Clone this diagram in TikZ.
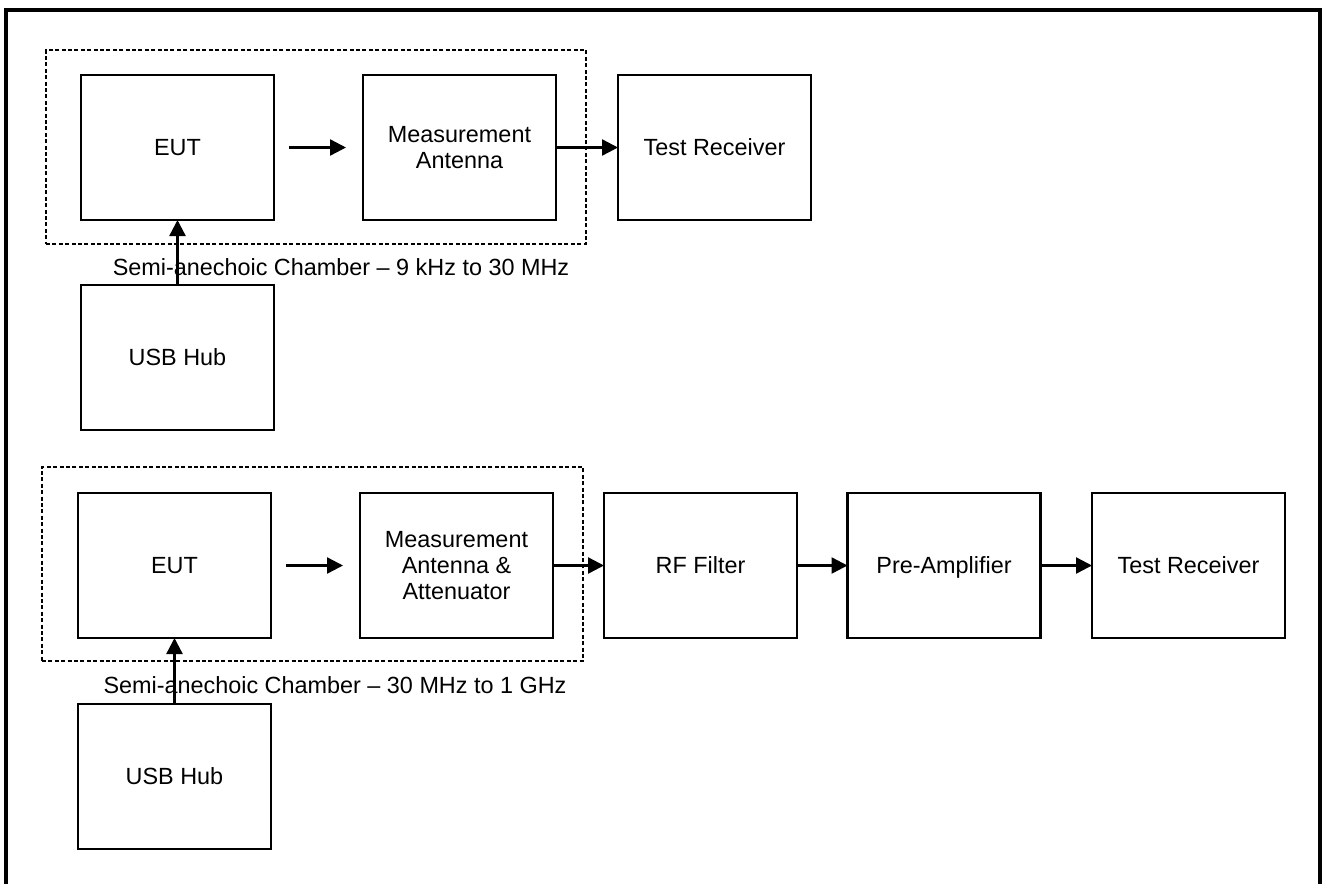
\documentclass[tikz,border=0pt]{standalone}
\usepackage{fontspec}
\setmainfont{Liberation Sans}
\usetikzlibrary{arrows.meta}
\begin{document}
\begin{tikzpicture}[x=0.5pt,y=-0.5pt,
  every node/.style={font=\fontsize{11.7}{13.2}\selectfont, text=black},
  blk/.style={draw, line width=1.2pt, minimum width=96.5pt, minimum height=72.5pt, inner sep=0pt, outer sep=0pt, align=center},
  one/.style={blk, text height=8.4pt, text depth=0pt},
  chamber/.style={draw, line width=1pt, dash pattern=on 2pt off 1.2pt, inner sep=0pt, outer sep=0pt},
  arr/.style={line width=1.2pt, -{Triangle[length=8pt,width=8pt]}},
  lbl/.style={inner sep=0pt}]
\useasboundingbox (0,0) rectangle (1322,884);
\draw[line width=2pt] (6,884) -- (6,10) -- (1320,10) -- (1320,884);
% top section
\node[chamber, minimum width=270pt, minimum height=97pt] (ch1) at (316,147) {};
\node[one] (eut1) at (177.5,147.5) {EUT};
\node[blk] (ma1) at (459.5,147.5) {Measurement\\Antenna};
\node[one] (tr1) at (714.5,147.5) {Test Receiver};
\node[one] (usb1) at (177.5,357.5) {USB Hub};
\node[lbl] (l1) at (341,267) {Semi-anechoic Chamber -- 9 kHz to 30 MHz};
\draw[arr, shorten <=7.5pt, shorten >=8.5pt] (eut1.east) -- (ma1.west);
\draw[arr] (ma1.east) -- (tr1.west);
\draw[arr] (usb1.north) -- (eut1.south);
% bottom section
\node[chamber, minimum width=270.5pt, minimum height=97pt] (ch2) at (312.5,564) {};
\node[one] (eut2) at (174.5,565.5) {EUT};
\node[blk] (ma2) at (456.5,565.5) {Measurement\\Antenna \&\\Attenuator};
\node[one] (rf2) at (700.5,565.5) {RF Filter};
\node[one] (pa2) at (944,565.5) {Pre-Amplifier};
\node[one] (tr2) at (1188.5,565.5) {Test Receiver};
\node[one] (usb2) at (174.5,776.5) {USB Hub};
\node[lbl] (l2) at (335,685) {Semi-anechoic Chamber -- 30 MHz to 1 GHz};
\draw[arr, shorten <=7.5pt, shorten >=8.5pt] (eut2.east) -- (ma2.west);
\draw[arr] (ma2.east) -- (rf2.west);
\draw[arr] (rf2.east) -- (pa2.west);
\draw[arr] (pa2.east) -- (tr2.west);
\draw[arr] (usb2.north) -- (eut2.south);
\end{tikzpicture}
\end{document}
